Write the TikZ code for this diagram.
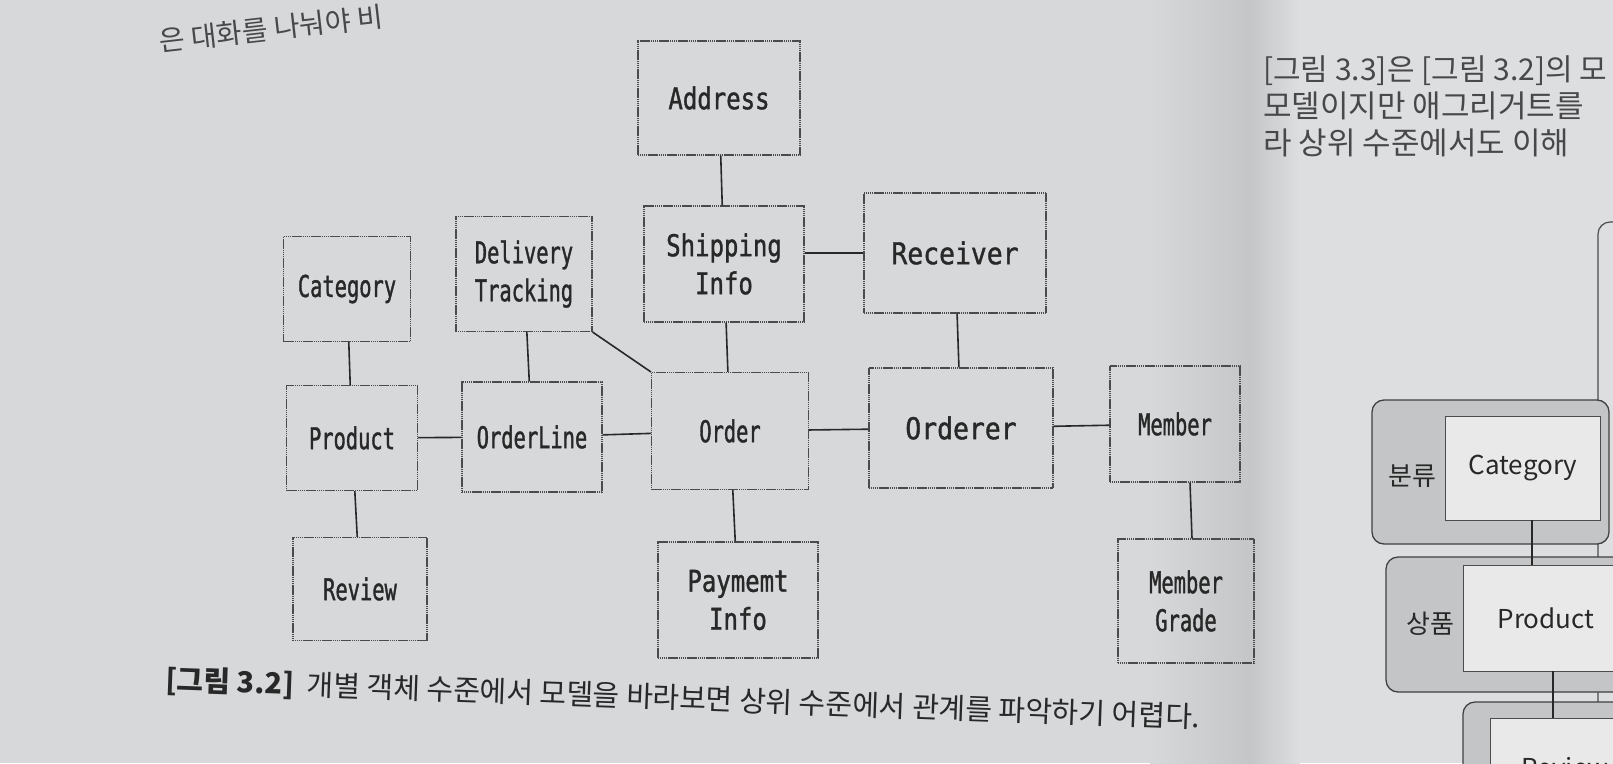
\documentclass[tikz,border=0pt]{standalone}
\usepackage{fontspec}
\newfontfamily\boxfont{DejaVu Sans Mono}[FakeStretch=0.68,FakeBold=1.2]
\newfontfamily\boxwide{DejaVu Sans Mono}[FakeStretch=0.8,FakeBold=1.2]
\newfontfamily\boxwider{DejaVu Sans Mono}[FakeStretch=0.88,FakeBold=1.2]
\newfontfamily\krfont{Noto Sans CJK KR}
\definecolor{page}{RGB}{214,216,218}
\definecolor{pageright}{RGB}{221,222,223}
\definecolor{binding}{RGB}{196,198,200}
\definecolor{ink}{RGB}{40,40,40}
\definecolor{boxline}{RGB}{75,75,75}
\definecolor{aggfill}{RGB}{196,197,198}
\definecolor{innerfill}{RGB}{233,233,233}
\definecolor{bodytext}{RGB}{72,72,74}

\begin{document}
\begin{tikzpicture}[x=1pt,y=-1pt,
  entity/.style={draw=boxline,line width=1.1pt,dash pattern=on 1.4pt off 0.5pt,
    text=ink,align=center,inner sep=0pt,font=\boxfont\fontsize{30}{38}\selectfont},
  widetext/.style={font=\boxwide\fontsize{30}{38}\selectfont},
  widertext/.style={font=\boxwider\fontsize{30}{38}\selectfont},
  link/.style={draw=ink,line width=1.6pt},
  aggbox/.style={draw=black!75,line width=1.3pt,fill=aggfill,rounded corners=12pt},
  aggpart/.style={draw=black!70,line width=0.9pt,fill=innerfill,inner sep=0pt,text=ink,
    font=\krfont\fontsize{26}{30}\selectfont},
  aggname/.style={text=ink,inner sep=0pt,font=\krfont\fontsize{26}{30}\selectfont},
  bodyline/.style={anchor=base west,inner sep=0pt,text=bodytext,font=\krfont\fontsize{31}{36}\selectfont}]
  \useasboundingbox (0,0) rectangle (1613,763);
  % fundal
  \fill[page] (0,0) rectangle (1613,763);
  \fill[pageright] (1270,0) rectangle (1613,763);
  \shade[left color=page,right color=binding] (1150,0) rectangle (1250,763);
  \shade[left color=binding,right color=pageright] (1250,0) rectangle (1300,763);

  % text deasupra
  \node[bodyline,font=\krfont\fontsize{28}{34}\selectfont,rotate=6.5] (topline) at (160,52) {은 대화를 나눠야 비};

  % entități
  \node[entity,widetext,minimum width=162,minimum height=114] (address) at (719,98) {Address};
  \node[entity,widetext,minimum width=160,minimum height=116] (shipping) at (724,264) {Shipping\\Info};
  \node[entity,widertext,minimum width=182,minimum height=120] (receiver) at (955,253) {Receiver};
  \node[entity,minimum width=136,minimum height=115] (tracking) at (524,274) {Delivery\\Tracking};
  \node[entity,minimum width=127,minimum height=105] (category) at (347,289) {Category};
  \node[entity,minimum width=131,minimum height=105] (product) at (352,438) {Product};
  \node[entity,minimum width=140,minimum height=110] (orderline) at (532,437) {OrderLine};
  \node[entity,minimum width=157,minimum height=117] (order) at (730,431) {Order};
  \node[entity,widertext,minimum width=184,minimum height=120] (orderer) at (961,428) {Orderer};
  \node[entity,minimum width=130,minimum height=116] (member) at (1175,424) {Member};
  \node[entity,minimum width=134,minimum height=103] (review) at (360,589) {Review};
  \node[entity,widetext,minimum width=160,minimum height=116] (payment) at (738,600) {Paymemt\\Info};
  \node[entity,minimum width=136,minimum height=124] (grade) at (1186,601) {Member\\Grade};

  % legături
  \draw[link] (address) -- (shipping);
  \draw[link] (shipping.east |- receiver) -- (receiver);
  \draw[link] (shipping) -- (order);
  \draw[link] (tracking) -- (orderline);
  \draw[link] (tracking.south east) -- (order.north west);
  \draw[link] (category) -- (product);
  \draw[link] (product) -- (orderline);
  \draw[link] (orderline) -- (order);
  \draw[link] (order) -- (orderer);
  \draw[link] (receiver) -- (orderer);
  \draw[link] (orderer) -- (member);
  \draw[link] (product) -- (review);
  \draw[link] (order) -- (payment);
  \draw[link] ([xshift=15pt]member.south) -- ([xshift=6pt]grade.north);

  % legendă
  \node[anchor=base west,rotate=-2.1,inner sep=0pt,text=ink,font=\krfont\fontsize{29}{32}\selectfont]
    (caption) at (165,690) {\textbf{[그림 3.2]}\ \ 개별 객체 수준에서 모델을 바라보면 상위 수준에서 관계를 파악하기 어렵다.};

  % pagina din dreapta
  \node[bodyline,font=\krfont\fontsize{30}{36}\selectfont] (line1) at (1263,80) {[그림 3.3]은 [그림 3.2]의 모};
  \node[bodyline] (line2) at (1263,117) {모델이지만 애그리거트를};
  \node[bodyline] (line3) at (1263,154) {라 상위 수준에서도 이해};
  \draw[line width=1.2pt,draw=black!70,rounded corners=12pt] (1598,790) -- (1598,222) -- (1660,222);
  \draw[aggbox] (1372,400) rectangle (1609,544);
  \node[aggpart,minimum width=155,minimum height=104] (catbox) at (1523,468) {Category};
  \node[aggname] (catname) at (1412,476) {분류};
  \draw[aggbox] (1386,557) rectangle (1660,692);
  \node[aggpart,minimum width=165,minimum height=106] (prodbox) at (1546,618) {Product};
  \node[aggname] (prodname) at (1430,624) {상품};
  \draw[aggbox] (1463,702) rectangle (1660,830);
  \node[aggpart,minimum width=150,minimum height=100] (revbox) at (1565,768) {Review};
  \draw[link,line width=1.2pt] ([xshift=9pt]catbox.south) -- ([xshift=-14pt]prodbox.north);
  \draw[link,line width=1.2pt] ([xshift=7pt]prodbox.south) -- ([xshift=-12pt]revbox.north);
\end{tikzpicture}
\end{document}
